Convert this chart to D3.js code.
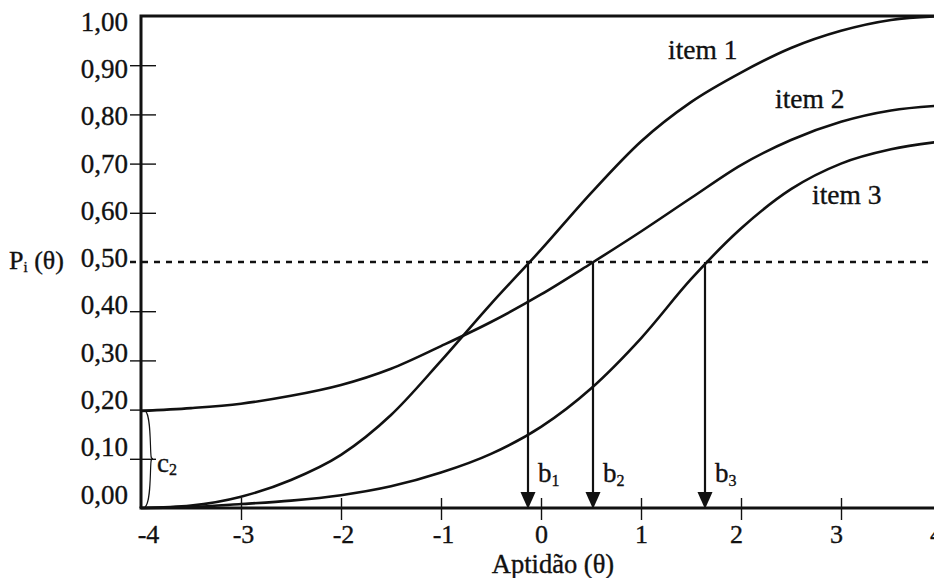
<!DOCTYPE html>
<html>
<head>
<meta charset="utf-8">
<script src="https://cdn.jsdelivr.net/npm/d3@7"></script>
<style>
  body { margin: 0; background: #fff; }
  svg { display: block; }
  text { font-family: "Liberation Serif", "Times New Roman", Tinos, "DejaVu Serif", serif; fill: #111; stroke: #111; stroke-width: 0.35px; }
</style>
</head>
<body>
<svg id="chart" width="934" height="578"></svg>
<script>
// Ability scale (theta) at which each item characteristic curve is sampled
const thetaGrid = [-4, -3.5, -3, -2.5, -2, -1.5, -1, -0.5, 0, 0.5, 1, 1.5, 2, 2.5, 3, 3.5, 4];

// Probability of a correct answer P_i(theta) for each item
const item1 = [0, 0.005, 0.023, 0.057, 0.108, 0.189, 0.299, 0.415, 0.525, 0.64, 0.745, 0.825, 0.885, 0.935, 0.97, 0.992, 1.0];
const item2 = [0.197, 0.203, 0.212, 0.228, 0.25, 0.283, 0.329, 0.378, 0.434, 0.497, 0.562, 0.63, 0.697, 0.748, 0.785, 0.808, 0.818];
const item3 = [0, 0.002, 0.008, 0.015, 0.026, 0.044, 0.072, 0.11, 0.165, 0.243, 0.345, 0.465, 0.568, 0.648, 0.70, 0.729, 0.745];

const itemNames = ["item 1", "item 2", "item 3"];

// Difficulty parameters b1, b2, b3 (ability where P = 0.50)
const difficulty = [-0.13, 0.52, 1.64];
const difficultyNames = ["1", "2", "3"];

// Lower asymptote (guessing) of item 2
const guessing2 = 0.20;
const referenceP = 0.50;

const yTickValues = [0, 0.1, 0.2, 0.3, 0.4, 0.5, 0.6, 0.7, 0.8, 0.9, 1.0];
const yTickLabels = ["0,00", "0,10", "0,20", "0,30", "0,40", "0,50", "0,60", "0,70", "0,80", "0,90", "1,00"];
const xTickValues = [-4, -3, -2, -1, 0, 1, 2, 3, 4];
const xTickLabels = ["-4", "-3", "-2", "-1", "0", "1", "2", "3", "4"];

const svg = d3.select("#chart");
const serif = '"Liberation Serif", "Times New Roman", Tinos, "DejaVu Serif", serif';

const x = d3.scaleLinear().domain([-4, 4]).range([141, 941]);
const y = d3.scaleLinear().domain([0, 1]).range([508, 16]);
// tick captions sit on a slightly tighter ladder than the tick marks
const labelY = d3.scaleLinear().domain([0, 1]).range([494, 21]);

const ink = "#111";

// ---- Y axis: crossing ticks with comma-decimal labels
const yAxis = d3.axisLeft(y)
  .tickValues(yTickValues)
  .tickSize(11)
  .tickFormat((d, i) => yTickLabels[i]);

const gy = svg.append("g").attr("transform", `translate(${x(-4)},0)`).call(yAxis);
gy.select(".domain").remove();
gy.selectAll(".tick line")
  .attr("stroke", ink)
  .attr("stroke-width", 1.4)
  .attr("x1", 15)
  .attr("x2", -11)
  .style("display", d => (d === 0 || d === 1 || d === referenceP) ? "none" : null);
gy.selectAll(".tick text")
  .attr("x", -13)
  .attr("dy", "0.34em")
  .attr("y", d => labelY(d) - y(d))
  .style("font-size", "27px")
  .style("font-family", serif)
  .attr("fill", ink);

// ---- X axis
const xAxis = d3.axisBottom(x)
  .tickValues(xTickValues)
  .tickSize(12)
  .tickFormat((d, i) => xTickLabels[i]);

const gx = svg.append("g").attr("transform", `translate(0,${y(0)})`).call(xAxis);
gx.select(".domain").remove();
gx.selectAll(".tick line")
  .attr("stroke", ink)
  .attr("stroke-width", 1.4)
  .attr("y1", -10)
  .attr("y2", 12)
  .style("display", d => d === -4 ? "none" : null);
gx.selectAll(".tick text")
  .attr("y", 35)
  .attr("dy", 0)
  .attr("dx", d => d < 0 ? (d === -4 ? 7 : 2) : (d > 1 ? -5 : 0))
  .style("font-size", "26px")
  .style("font-family", serif)
  .attr("fill", ink);

// ---- Frame (left, top and bottom rules)
svg.append("path")
  .attr("d", `M${x(-4)},${y(0)}V${y(1)}H${x(4)}`)
  .attr("fill", "none").attr("stroke", ink).attr("stroke-width", 3);
svg.append("line")
  .attr("x1", x(-4) - 1.5).attr("x2", x(4))
  .attr("y1", y(0)).attr("y2", y(0))
  .attr("stroke", ink).attr("stroke-width", 3);

// ---- Dotted reference line at P = 0.50
svg.append("line")
  .attr("x1", 130).attr("x2", x(4))
  .attr("y1", y(referenceP)).attr("y2", y(referenceP))
  .attr("stroke", ink).attr("stroke-width", 2.4)
  .attr("stroke-dasharray", "6,6");

// ---- Item characteristic curves
const line = d3.line()
  .x(d => x(d[0]))
  .y(d => y(d[1]))
  .curve(d3.curveMonotoneX);

[item1, item2, item3].forEach(series => {
  svg.append("path")
    .datum(thetaGrid.map((t, i) => [t, series[i]]))
    .attr("d", line)
    .attr("fill", "none")
    .attr("stroke", ink)
    .attr("stroke-width", 2.6)
    .attr("stroke-linejoin", "round");
});

// ---- Difficulty arrows b_i
const headH = 16, headW = 7.5;
difficulty.forEach((b, i) => {
  const bx = x(b);
  svg.append("line")
    .attr("x1", bx).attr("x2", bx)
    .attr("y1", y(referenceP)).attr("y2", y(0) - headH + 1)
    .attr("stroke", ink).attr("stroke-width", 2.2);
  svg.append("path")
    .attr("d", `M${bx - headW},${y(0) - headH}L${bx + headW},${y(0) - headH}L${bx},${y(0) + 1}Z`)
    .attr("fill", ink);
  const t = svg.append("text")
    .attr("x", bx + 10).attr("y", 482)
    .style("font-size", "27px");
  t.append("tspan").text("b");
  t.append("tspan").attr("dy", 4).style("font-size", "16px").text(difficultyNames[i]);
});

// ---- Brace marking the lower asymptote c2 of item 2
const bx0 = x(-4) + 4, bxMid = x(-4) + 12;
const yTop = y(guessing2) + 1, yBot = y(0) - 1, yMid = y(0.1);
svg.append("path")
  .attr("d",
    `M${bx0},${yTop}` +
    `C${bx0 + 6},${yTop + 4} ${bx0 + 5},${yMid - 12} ${bx0 + 6},${yMid - 3}` +
    `Q${bx0 + 6},${yMid} ${bxMid},${yMid}` +
    `Q${bx0 + 6},${yMid} ${bx0 + 6},${yMid + 3}` +
    `C${bx0 + 5},${yMid + 12} ${bx0 + 6},${yBot - 4} ${bx0},${yBot}`)
  .attr("fill", "none").attr("stroke", ink).attr("stroke-width", 1.2);

const c2 = svg.append("text").attr("x", 157).attr("y", 472).style("font-size", "27px");
c2.append("tspan").text("c");
c2.append("tspan").attr("dy", 3).style("font-size", "16px").text("2");

// ---- Item labels
const itemLabelPos = [[668, 59], [775, 108], [812, 204]];
itemNames.forEach((name, i) => {
  svg.append("text")
    .attr("x", itemLabelPos[i][0]).attr("y", itemLabelPos[i][1])
    .style("font-size", "27.5px")
    .text(name);
});

// ---- Axis titles
const py = svg.append("text").attr("x", 9).attr("y", 269).style("font-size", "26px");
py.append("tspan").text("P");
py.append("tspan").attr("dy", 3).style("font-size", "15px").text("i");
py.append("tspan").attr("dy", -3).text(" (θ)");

svg.append("text")
  .attr("x", 553).attr("y", 572.5)
  .attr("text-anchor", "middle")
  .style("font-size", "26.5px")
  .text("Aptidão (θ)");
</script>
</body>
</html>
